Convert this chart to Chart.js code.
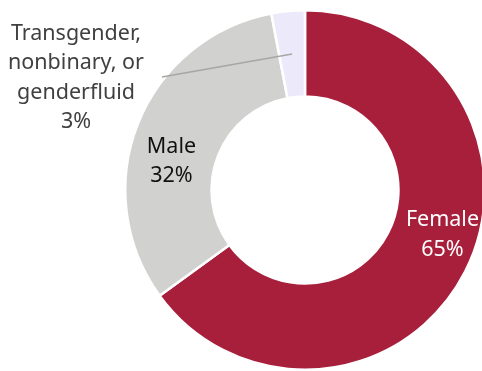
<!DOCTYPE html>
<html>
<head>
<meta charset="utf-8">
<script src="https://cdn.jsdelivr.net/npm/chart.js@4.4.0/dist/chart.umd.min.js"></script>
<style>
  html, body { margin: 0; padding: 0; background: #fff; overflow: hidden; }
  #wrap { width: 610px; height: 371px; }
</style>
</head>
<body>
<div id="wrap"><canvas id="genderChart" width="610" height="371"></canvas></div>
<script>
// gender breakdown, percent
var categories = ['Female', 'Male', 'Transgender, nonbinary, or genderfluid'];
var shares = [65, 32, 3];
var sliceColors = ['#A71F3B', '#D1D2D0', '#ECEAFA'];

// text lines shown for each slice
var labelLines = [
  ['Female', shares[0] + '%'],
  ['Male', shares[1] + '%'],
  ['Transgender,', 'nonbinary, or', 'genderfluid', shares[2] + '%']
];

// where each label sits: fraction along the slice, radial shift, text colour
var labelLayout = [
  { frac: 0.462, shift: 8, color: '#ffffff' },
  { frac: 0.418, shift: 0, color: '#111111' },
  { frac: 0.5, shift: 0, color: '#404040', outside: true, x: 76, y: 78, lineX: 162, lineY: 77 }
];
var labelFont = '21.5px "Noto Sans", sans-serif';
var labelLineHeight = 29.5;

var sliceLabels = {
  id: 'sliceLabels',
  afterDatasetsDraw: function (chart) {
    var ctx = chart.ctx;
    var arcs = chart.getDatasetMeta(0).data;
    ctx.save();
    ctx.font = labelFont;
    ctx.textAlign = 'center';
    ctx.textBaseline = 'middle';
    arcs.forEach(function (arc, i) {
      var p = arc.getProps(['x', 'y', 'startAngle', 'endAngle', 'innerRadius', 'outerRadius'], true);
      var set = labelLayout[i];
      var a = p.startAngle + (p.endAngle - p.startAngle) * set.frac;
      var r = (p.innerRadius + p.outerRadius) / 2 + set.shift;
      var ax = p.x + Math.cos(a) * r;
      var ay = p.y + Math.sin(a) * r;
      var tx = ax, ty = ay;
      if (set.outside) {
        tx = set.x; ty = set.y;
        // leader line from the text to the slice
        ctx.strokeStyle = '#A6A6A6';
        ctx.lineWidth = 1.5;
        ctx.beginPath();
        ctx.moveTo(set.lineX, set.lineY);
        ctx.lineTo(ax, ay);
        ctx.stroke();
      }
      var lines = labelLines[i];
      var top = ty - (lines.length - 1) * labelLineHeight / 2;
      ctx.fillStyle = set.color;
      lines.forEach(function (t, k) {
        ctx.fillText(t, tx, top + k * labelLineHeight);
      });
    });
    ctx.restore();
  }
};

new Chart(document.getElementById('genderChart'), {
  type: 'doughnut',
  data: {
    labels: categories,
    datasets: [{
      data: shares,
      backgroundColor: sliceColors,
      borderColor: '#ffffff',
      borderWidth: 2.5
    }]
  },
  options: {
    responsive: false,
    animation: false,
    cutout: '52%',
    layout: { padding: { top: 9, bottom: 0 } },
    plugins: {
      legend: { display: false },
      tooltip: { enabled: false }
    }
  },
  plugins: [sliceLabels]
});
</script>
</body>
</html>
